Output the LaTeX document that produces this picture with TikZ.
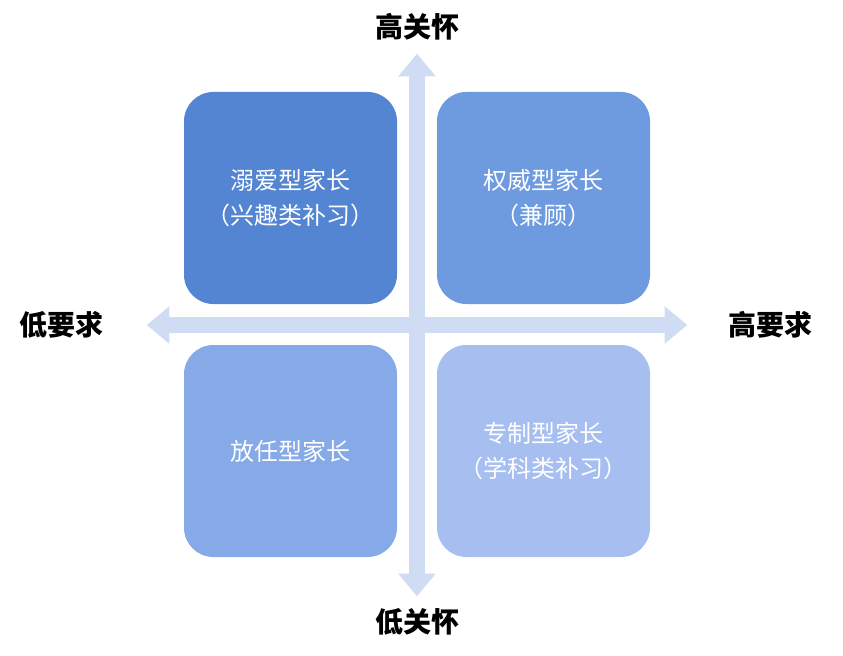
\documentclass[tikz,border=0pt]{standalone}
\usepackage{fontspec}
\setmainfont{Noto Sans CJK SC}
\newfontfamily\cjkb{Noto Sans CJK SC Bold}
\usetikzlibrary{arrows.meta}
\definecolor{cA}{HTML}{5485D2}
\definecolor{cB}{HTML}{6E9BE0}
\definecolor{cC}{HTML}{86A9E7}
\definecolor{cD}{HTML}{A6BEF0}
\definecolor{ax}{HTML}{D0DCF4}
\begin{document}
\begin{tikzpicture}[x=0.75pt,y=-0.75pt,
  quad/.style={rounded corners=22pt,minimum width=213*0.75pt,minimum height=212*0.75pt,text=white,font=\fontsize{18}{26}\selectfont,align=center,inner sep=0},
  axis/.style={ax,line width=12pt,{Triangle[width=27pt,length=17pt]}-{Triangle[width=27pt,length=17pt]},shorten <=-1pt,shorten >=-1pt},
  lab/.style={font=\fontsize{21}{24}\selectfont\bfseries,text=black}]
\useasboundingbox (0,0) rectangle (843,656);
\coordinate (t) at (417,55); \coordinate (b) at (417,595);
\coordinate (l) at (148,325); \coordinate (r) at (686,325);
\draw[axis] (t) -- (b);
\draw[axis] (l) -- (r);
\node[quad,fill=cA] (q1) at (290.5,198) {溺爱型家长\\（兴趣类补习）};
\node[quad,fill=cB] (q2) at (543.5,198) {权威型家长\\（兼顾）};
\node[quad,fill=cC] (q3) at (290.5,451) {放任型家长};
\node[quad,fill=cD] (q4) at (543.5,451) {专制型家长\\（学科类补习）};
\node[lab] (n1) at (417,27) {高关怀};
\node[lab] (n2) at (417,622) {低关怀};
\node[lab] (n3) at (62,325) {低要求};
\node[lab] (n4) at (770,325) {高要求};
\end{tikzpicture}
\end{document}
